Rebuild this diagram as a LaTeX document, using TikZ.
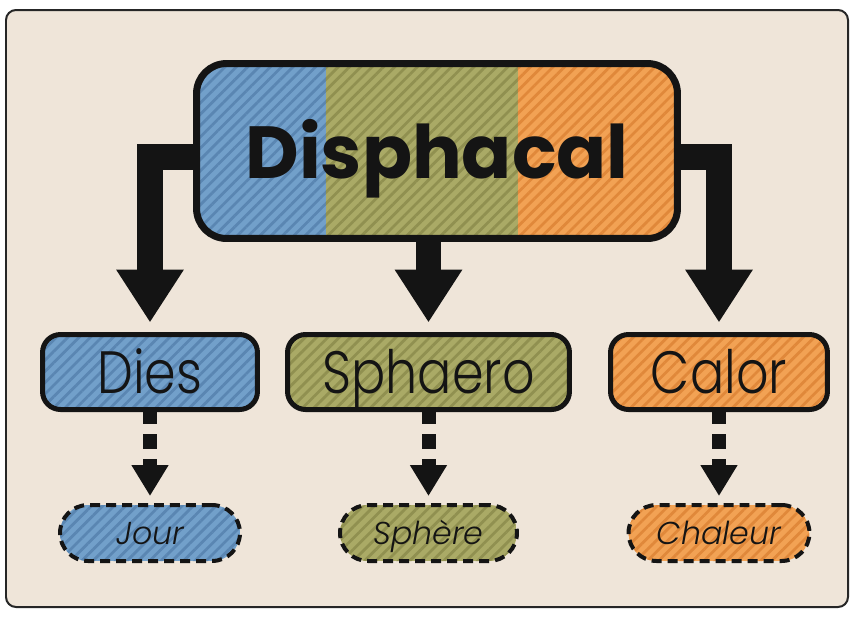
\documentclass[tikz,border=0pt]{standalone}
\usepackage{fontspec}
\setmainfont{Poppins}
\newfontfamily\lightfont{Poppins}[UprightFont=* Light, ItalicFont=* Light Italic]
\usetikzlibrary{arrows.meta,patterns.meta,calc}
\newcommand\narrowtext[1]{\scalebox{0.85}[1]{#1}}
\definecolor{paper}{RGB}{239,229,217}
\definecolor{cB}{RGB}{114,160,202}
\definecolor{cBs}{RGB}{90,134,178}
\definecolor{cO}{RGB}{170,170,102}
\definecolor{cOs}{RGB}{144,144,80}
\definecolor{cR}{RGB}{242,162,84}
\definecolor{cRs}{RGB}{224,136,58}
\definecolor{ink}{RGB}{20,20,20}
\tikzset{
  stripefill/.style 2 args={path picture={
    \fill[#1, sharp corners] (path picture bounding box.south west) rectangle (path picture bounding box.north east);
    \fill[sharp corners, pattern={Lines[angle=45,distance=0.16cm,line width=0.055cm]}, pattern color=#2]
      (path picture bounding box.south west) rectangle (path picture bounding box.north east);}},
  midbox/.style={draw=ink, line width=0.1cm, rounded corners=0.36cm, minimum height=1.5cm,
    inner sep=0pt, text=ink, text height=24pt, text depth=0pt, font=\lightfont\fontsize{34}{40}\selectfont},
  leafbox/.style={draw=ink, line width=0.08cm, dash pattern=on 0.2cm off 0.12cm,
    rounded corners=0.56cm, minimum height=1.12cm, inner sep=0pt, text=ink,
    text height=12.6pt, text depth=0pt, font=\lightfont\fontsize{18}{22}\selectfont\itshape},
  bigarrow/.style={draw=ink, line width=0.52cm, line join=miter,
    -{Triangle[width=1.28cm,length=1.06cm]}, shorten >=0.19cm},
  dotarrow/.style={draw=ink, line width=0.28cm, dash pattern=on 0.3cm off 0.2cm, dash phase=0.05cm,
    -{Triangle[width=0.7cm,length=0.62cm]}, shorten >=0.14cm},
  linepat/.style={sharp corners, pattern={Lines[angle=45,distance=0.16cm,line width=0.055cm]}, pattern color=#1},
}
\begin{document}
\begin{tikzpicture}[x=0.02cm,y=-0.02cm]
\useasboundingbox (0,0) rectangle (860,620);
\fill[white] (0,0) rectangle (860,620);
\draw[fill=paper, draw=black!85, line width=0.04cm, rounded corners=0.2cm] (6,10) rectangle (848,607);

\node[draw=ink, line width=0.14cm, rounded corners=0.6cm, minimum width=9.62cm, minimum height=3.5cm,
  inner sep=0pt, text=ink, text height=31pt, text depth=0pt, font=\fontsize{42}{50}\selectfont\bfseries,
  path picture={
    \fill[cB, sharp corners] (path picture bounding box.south west) rectangle (path picture bounding box.north east);
    \fill[cO, sharp corners] ($(path picture bounding box.south west)!0.269!(path picture bounding box.south east)$) rectangle (path picture bounding box.north east);
    \fill[cR, sharp corners] ($(path picture bounding box.south west)!0.668!(path picture bounding box.south east)$) rectangle (path picture bounding box.north east);
    \fill[linepat=cBs]
      (path picture bounding box.south west) rectangle ($(path picture bounding box.north west)!0.269!(path picture bounding box.north east)$);
    \fill[linepat=cOs]
      ($(path picture bounding box.south west)!0.269!(path picture bounding box.south east)$) rectangle ($(path picture bounding box.north west)!0.668!(path picture bounding box.north east)$);
    \fill[linepat=cRs]
      ($(path picture bounding box.south west)!0.668!(path picture bounding box.south east)$) rectangle (path picture bounding box.north east);
  }] (top) at (437,151) {Disphacal};

\node[midbox, stripefill={cB}{cBs}, minimum width=4.3cm] (dies) at (150,372) {\narrowtext{Dies}};
\node[midbox, stripefill={cO}{cOs}, minimum width=5.64cm] (sphaero) at (428.5,372) {\narrowtext{Sphaero}};
\node[midbox, stripefill={cR}{cRs}, minimum width=4.34cm] (calor) at (719,372) {\narrowtext{Calor}};

\node[leafbox, stripefill={cB}{cBs}, minimum width=3.6cm] (jour) at (150,533) {Jour};
\node[leafbox, stripefill={cO}{cOs}, minimum width=3.54cm] (sphere) at (428.5,533) {Sphère};
\node[leafbox, stripefill={cR}{cRs}, minimum width=3.62cm] (chaleur) at (719,533) {Chaleur};

\coordinate (lstart) at ($(top.west)+(0,6)$);
\coordinate (rstart) at ($(top.east)+(0,6)$);
\draw[bigarrow] (lstart) -| (dies.north);
\draw[bigarrow] (rstart) -| (calor.north);
\draw[bigarrow] (top.south -| sphaero.north) -- (sphaero.north);

\draw[dotarrow] (dies.south) -- (jour.north);
\draw[dotarrow] (sphaero.south) -- (sphere.north);
\draw[dotarrow] (calor.south) -- (chaleur.north);
\end{tikzpicture}
\end{document}
